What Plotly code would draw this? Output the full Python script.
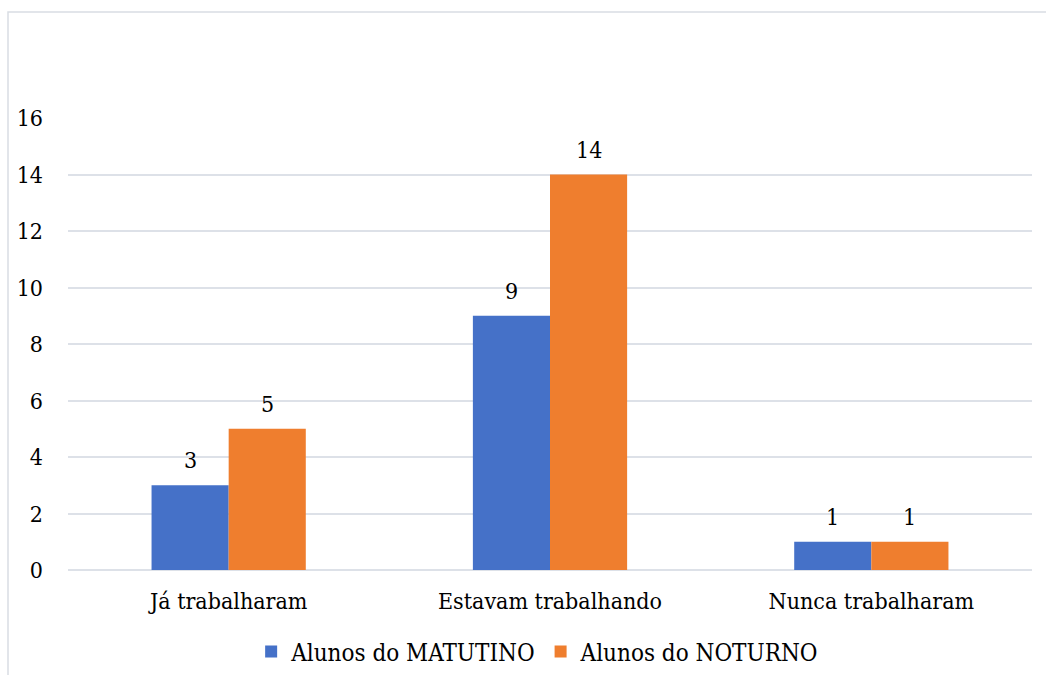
import plotly.graph_objects as go

categories = ["Já trabalharam", "Estavam trabalhando", "Nunca trabalharam"]
matutino = [3, 9, 1]
noturno = [5, 14, 1]
series_names = ["Alunos do MATUTINO", "Alunos do NOTURNO"]
y_ticks = [0, 2, 4, 6, 8, 10, 12, 14, 16]

FONT = "DejaVu Serif Condensed, DejaVu Serif, serif"
FS = 23
W, H = 1046, 675
L, R, T, B = 68, 14, 118, 105

fig = go.Figure()
fig.add_trace(go.Bar(x=categories, y=matutino, name=series_names[0],
                     marker=dict(color="#4571C8", line=dict(width=0))))
fig.add_trace(go.Bar(x=categories, y=noturno, name=series_names[1],
                     marker=dict(color="#EF7E2E", line=dict(width=0))))

annotations = []
for vals, shift in ((matutino, -38.5), (noturno, 38.5)):
    for c, v in zip(categories, vals):
        annotations.append(dict(x=c, y=v, text=str(v), showarrow=False,
                                xshift=shift, yshift=10, yanchor="bottom",
                                font=dict(family=FONT, size=FS, color="#000")))

pw = W - L - R
ph = H - T - B
fig.update_layout(
    width=W, height=H,
    margin=dict(l=L, r=R, t=T, b=B),
    paper_bgcolor="white", plot_bgcolor="white",
    barmode="group", bargap=0.52, bargroupgap=0,
    font=dict(family=FONT, size=FS, color="#000"),
    annotations=annotations,
    showlegend=True,
    legend=dict(orientation="h", xref="container", yref="container",
                x=0.514, xanchor="center", y=(H - 652) / H, yanchor="middle",
                font=dict(family=FONT, size=24, color="#000"),
                itemwidth=30, tracegroupgap=0, traceorder="normal"),
    xaxis=dict(showgrid=False, showline=False, ticks="", ticklabelstandoff=15,
               tickfont=dict(family=FONT, size=FS, color="#000")),
    yaxis=dict(range=[0, 16], tickvals=y_ticks, showgrid=True,
               gridcolor="#DDE1E8", gridwidth=1.5, zeroline=True,
               zerolinecolor="#DDE1E8", zerolinewidth=1.5, showline=False,
               ticks="", ticklabelstandoff=24,
               tickfont=dict(family=FONT, size=FS, color="#000")),
    shapes=[dict(type="rect", xref="paper", yref="paper",
                 x0=(8 - L) / pw, x1=(W + 20 - L) / pw,
                 y0=-(H + 20 - T - ph) / ph, y1=(ph + T - 12) / ph,
                 line=dict(color="#D9DDE3", width=1.5), layer="below")],
)

fig.write_html("out.html")
